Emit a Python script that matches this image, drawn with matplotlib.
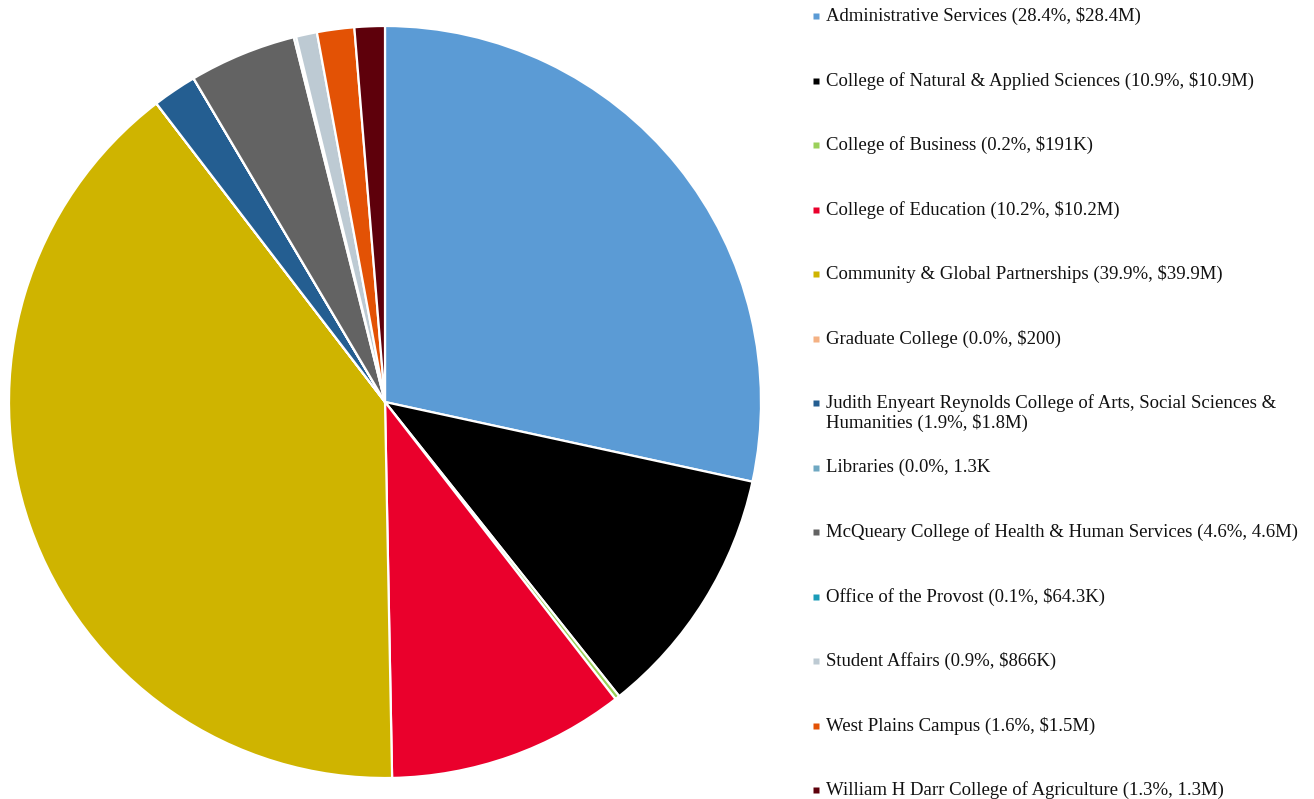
import numpy as np
import matplotlib.pyplot as plt

# units and their share of the total (percent)
units = ['Administrative Services', 'College of Natural & Applied Sciences',
         'College of Business', 'College of Education',
         'Community & Global Partnerships', 'Graduate College',
         'Judith Enyeart Reynolds College of Arts, Social Sciences &\nHumanities',
         'Libraries', 'McQueary College of Health & Human Services',
         'Office of the Provost', 'Student Affairs', 'West Plains Campus',
         'William H Darr College of Agriculture']
share = [28.4, 10.9, 0.2, 10.2, 39.9, 0.0002, 1.9, 0.0013, 4.6, 0.1, 0.9, 1.6, 1.3]
amounts = ['$28.4M', '$10.9M', '$191K', '$10.2M', '$39.9M', '$200', '$1.8M',
           '1.3K', '4.6M', '$64.3K', '$866K', '$1.5M', '1.3M']
pct_text = ['28.4%', '10.9%', '0.2%', '10.2%', '39.9%', '0.0%', '1.9%',
            '0.0%', '4.6%', '0.1%', '0.9%', '1.6%', '1.3%']
colors = ['#5B9BD5', '#000000', '#9BD05A', '#EA002C', '#CFB400', '#F4B183',
          '#245E91', '#6FA8C2', '#636363', '#1A9CB8', '#BDCAD3', '#E35205',
          '#5E000B']

plt.rcParams['font.family'] = ['Liberation Serif', 'DejaVu Serif']

W, H = 1314, 799
fig = plt.figure(figsize=(W / 100, H / 100), dpi=100)

# pie
cx, cy, r = 385, 402, 376
ax = fig.add_axes([(cx - r) / W, (H - cy - r) / H, 2 * r / W, 2 * r / H])
ax.pie(share, colors=colors, startangle=90, counterclock=False, radius=1,
       wedgeprops=dict(edgecolor='white', linewidth=1.6))
ax.set_xlim(-1.0, 1.0)
ax.set_ylim(-1.0, 1.0)
ax.set_aspect('auto')
ax.axis('off')

# legend drawn by hand so the wrapped entry keeps the row pitch
lax = fig.add_axes([0, 0, 1, 1], zorder=-1)
lax.set_xlim(0, W)
lax.set_ylim(H, 0)
lax.axis('off')

y0, step = 16, 64.5
for i, name in enumerate(units):
    y = y0 + step * i
    lax.plot(816, y, 's', ms=5, color=colors[i], mec='none')
    lines = name.split('\n')
    lines[-1] = lines[-1] + ' (%s, %s' % (pct_text[i], amounts[i]) + (')' if name != 'Libraries' else '')
    for k, line in enumerate(lines):
        lax.text(826, y + 20 * k, line, va='center', ha='left', fontsize=13.5,
                 color='#111111')

fig.savefig('out.png', dpi=100)
